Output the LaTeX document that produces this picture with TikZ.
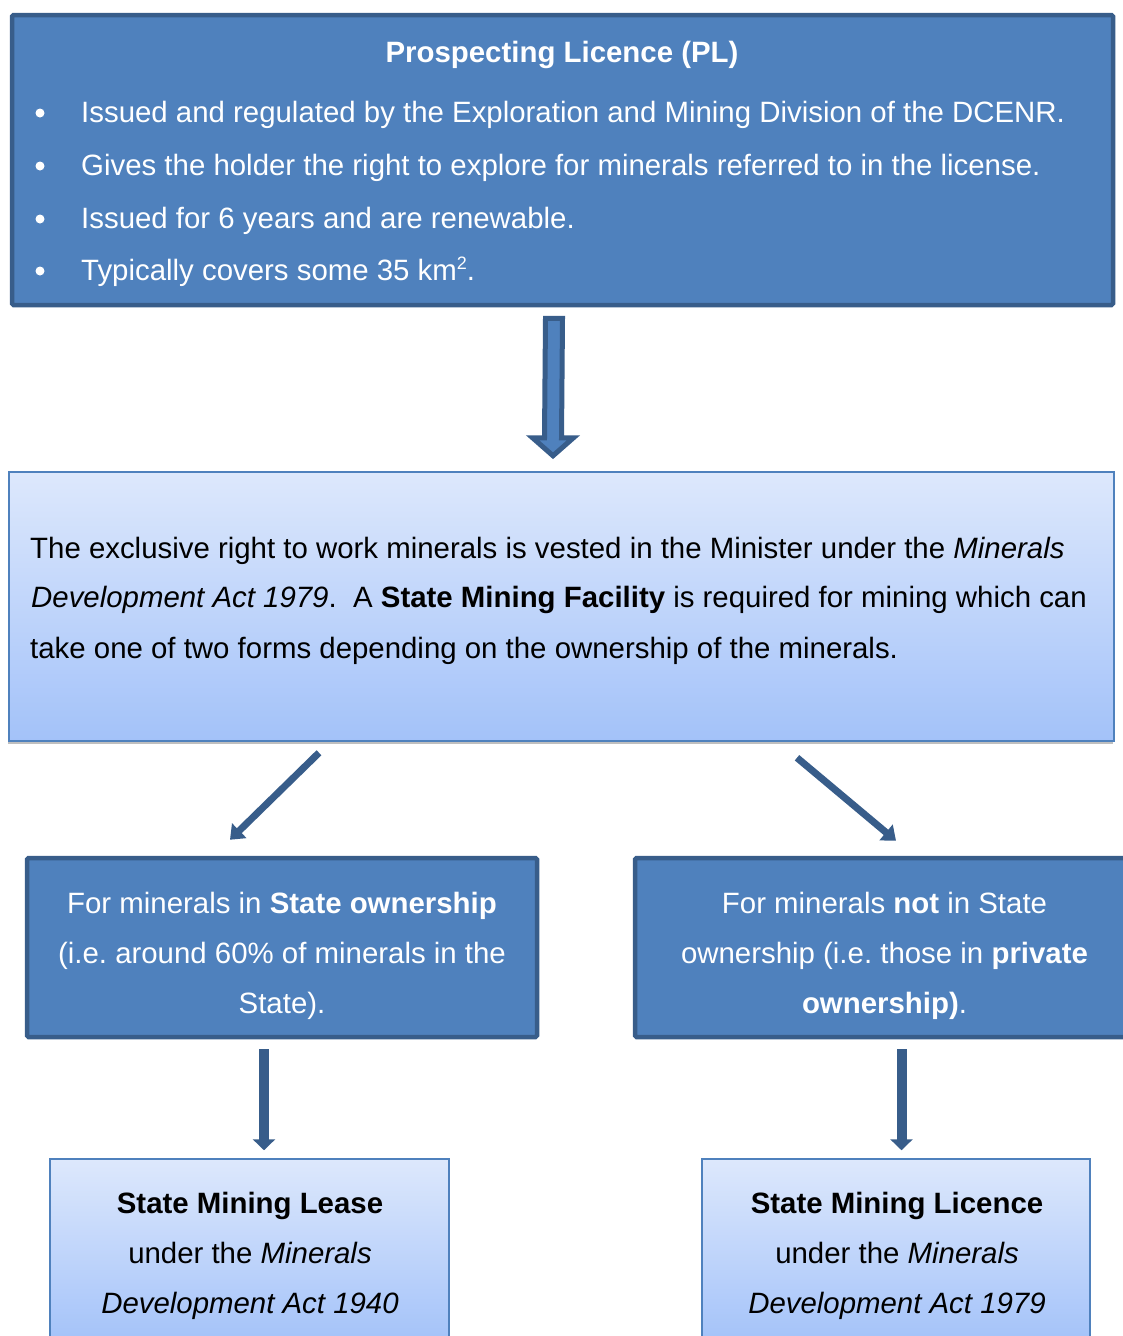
\documentclass[tikz,border=0pt]{standalone}
\usepackage{fontspec}
\setmainfont{Liberation Sans}
\usetikzlibrary{arrows.meta,shadows,calc}
\definecolor{bfill}{HTML}{4F81BD}
\definecolor{bdark}{HTML}{385D8A}
\definecolor{ltop}{HTML}{DDE8FC}
\definecolor{lbot}{HTML}{A3C2F9}
\frenchspacing
\begin{document}
\begin{tikzpicture}[x=1pt,y=1pt,
  darkbox/.style={draw=bdark, line width=4.5pt, fill=bfill, rounded corners=1.5pt, inner sep=0pt},
  lightbox/.style={draw=bfill, line width=1.5pt, top color=ltop, bottom color=lbot, inner sep=0pt,
    drop shadow={shadow xshift=-1pt, shadow yshift=-3pt, opacity=0.25, fill=black}},
  wt/.style={text=white, font=\fontsize{29.4}{34}\selectfont, inner sep=0pt, anchor=base},
  bt/.style={text=black, font=\fontsize{29.4}{34}\selectfont, inner sep=0pt, anchor=base},
  diag/.style={draw=bdark, line width=7pt, -{Triangle[length=13pt,width=20pt]}},
  downarr/.style={draw=bdark, line width=10pt, -{Triangle[length=11pt,width=22pt]}},
  blockarr/.style={draw=bdark, line width=5pt, fill=bfill, line join=miter},
  dot/.style={fill=white}
]
\useasboundingbox (0,0) rectangle (1123,-1336);
\fill[white] (0,0) rectangle (1123,-1336);

% boxes
\node[darkbox, minimum width=1101pt, minimum height=290pt] (pl) at (562.5,-160) {};
\node[lightbox, minimum width=1105pt, minimum height=269pt] (mid) at (561.5,-606.5) {};
\node[darkbox, minimum width=510pt, minimum height=179pt] (lb) at (282,-947.5) {};
\node[darkbox, minimum width=510pt, minimum height=179pt] (rb) at (890,-947.5) {};
\node[lightbox, minimum width=399pt, minimum height=186pt] (lb2) at (249.5,-1252) {};
\node[lightbox, minimum width=388pt, minimum height=186pt] (rb2) at (896,-1252) {};

% top box text
\node[wt] (plt) at (562,-62) {\textbf{Prospecting Licence (PL)}};
\fill[dot] (40,-113) circle (4.5pt);
\fill[dot] (40,-166) circle (4.5pt);
\fill[dot] (40,-219) circle (4.5pt);
\fill[dot] (40,-271) circle (4.5pt);
\node[wt, anchor=base west] (pl1) at (81,-122) {Issued and regulated by the Exploration and Mining Division of the DCENR.};
\node[wt, anchor=base west] (pl2) at (81,-175) {Gives the holder the right to explore for minerals referred to in the license.};
\node[wt, anchor=base west] (pl3) at (81,-228) {Issued for 6 years and are renewable.};
\node[wt, anchor=base west] (pl4) at (81,-280) {Typically covers some 35 km\raisebox{11pt}{\fontsize{18}{20}\selectfont 2}.};

% middle text
\node[bt, anchor=base west] (m1) at (30,-558) {The exclusive right to work minerals is vested in the Minister under the \textit{Minerals}};
\node[bt, anchor=base west] (m2) at (31,-607) {\textit{Development Act 1979}.\ \ A \textbf{State Mining Facility} is required for mining which can};
\node[bt, anchor=base west] (m3) at (30,-658) {take one of two forms depending on the ownership of the minerals.};

% left blue text
\node[wt] (l1) at (282,-913) {For minerals in \textbf{State ownership}};
\node[wt] (l2) at (282,-963) {(i.e. around 60\% of minerals in the};
\node[wt] (l3) at (282,-1013) {State).};

% right blue text
\node[wt] (r1) at (884.5,-913) {For minerals \textbf{not} in State};
\node[wt] (r2) at (884.5,-963) {ownership (i.e. those in \textbf{private}};
\node[wt] (r3) at (884.5,-1013) {\textbf{ownership)}.};

% bottom left text
\node[bt] (bl1) at (250,-1213) {\textbf{State Mining Lease}};
\node[bt] (bl2) at (250,-1263) {under the \textit{Minerals}};
\node[bt] (bl3) at (250,-1313) {\textit{Development Act 1940}};

% bottom right text
\node[bt] (br1) at (897,-1213) {\textbf{State Mining Licence}};
\node[bt] (br2) at (897,-1263) {under the \textit{Minerals}};
\node[bt] (br3) at (897,-1313) {\textit{Development Act 1979}};

% block arrow pl -> mid
\coordinate (ba) at ($(pl.south)+(-8.5,-11)$);
\coordinate (bb) at ($(mid.north)+(-8.5,15.5)$);
\draw[blockarr] ($(ba)+(-8.5,0)$) -- ($(ba)+(8.5,0)$) -- ($(bb)+(8.5,18)$) -- ($(bb)+(20.5,18)$)
  -- (bb) -- ($(bb)+(-20.5,18)$) -- ($(bb)+(-8.5,18)$) -- cycle;

% diagonal arrows
\draw[diag] ($(mid.south)+(-242.5,-11)$) -- ($(lb.north)+(-52,16)$);
\draw[diag] ($(mid.south)+(235.5,-16)$) -- ($(rb.north)+(6,15)$);

% down arrows
\coordinate (s1) at ($(lb.south)+(-18,-10)$);
\draw[downarr] (s1) -- ($(s1 |- lb2.north)+(0,8)$);
\coordinate (s2) at ($(rb.south)+(11.5,-10)$);
\draw[downarr] (s2) -- ($(s2 |- rb2.north)+(0,8)$);
\end{tikzpicture}
\end{document}
